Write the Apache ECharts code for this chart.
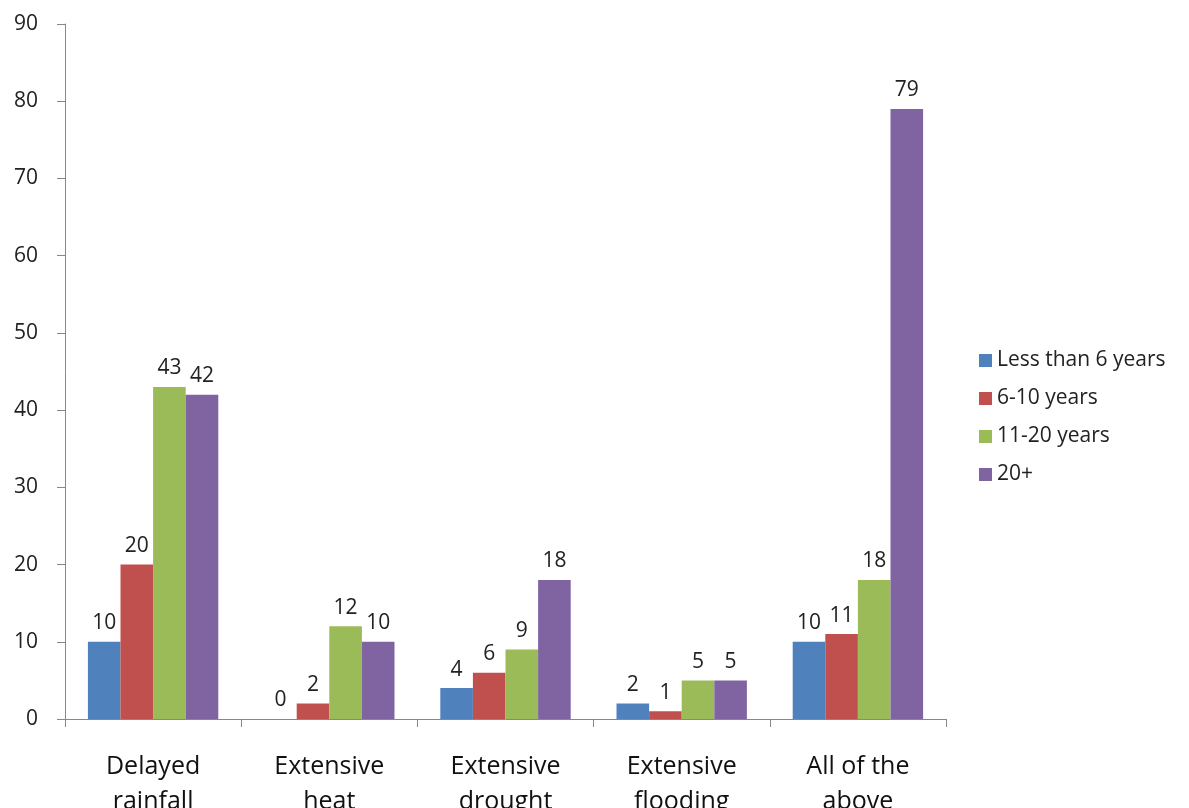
<!DOCTYPE html>
<html><head><meta charset="utf-8">
<script src="https://cdn.jsdelivr.net/npm/echarts@6/dist/echarts.min.js"></script>
<style>html,body{margin:0;padding:0;background:#fff}#c{width:1189px;height:808px}</style>
</head><body><div id="c"></div>
<script>
const categories = ["Delayed\nrainfall", "Extensive\nheat", "Extensive\ndrought", "Extensive\nflooding", "All of the\nabove"];
const seriesNames = ["Less than 6 years", "6-10 years", "11-20 years", "20+"];
const lessThan6 = [10, 0, 4, 2, 10];
const y6to10 = [20, 2, 6, 1, 11];
const y11to20 = [43, 12, 9, 5, 18];
const y20plus = [42, 10, 18, 5, 79];
const colors = ["#4F81BD", "#C0504D", "#9BBB59", "#8064A2"];
const values = [lessThan6, y6to10, y11to20, y20plus];

const font = "'Open Sans', 'Liberation Sans', sans-serif";
const chart = echarts.init(document.getElementById('c'));
chart.setOption({
  animation: false,
  textStyle: {fontFamily: font},
  grid: {left: 65, right: 243, top: 24, bottom: 89, containLabel: false, outerBoundsMode: 'none'},
  legend: {
    orient: 'vertical', left: 974, top: 345,
    itemWidth: 13, itemHeight: 13, itemGap: 17,
    icon: 'rect',
    textStyle: {fontSize: 21, color: '#222', fontFamily: font},
    data: seriesNames
  },
  xAxis: {
    type: 'category', data: categories,
    axisLine: {lineStyle: {color: '#888', width: 1}},
    axisTick: {show: true, length: 8, lineStyle: {color: '#888'}},
    axisLabel: {fontSize: 25, color: '#111', margin: 30, lineHeight: 35, fontFamily: font, hideOverlap: false}
  },
  yAxis: {
    type: 'value', min: 0, max: 90, interval: 10,
    axisLine: {show: true, lineStyle: {color: '#888', width: 1}},
    axisTick: {show: true, length: 8, lineStyle: {color: '#888'}},
    splitLine: {show: false},
    axisLabel: {fontSize: 21, color: '#222', margin: 27, fontFamily: font}
  },
  series: seriesNames.map((n, i) => ({
    name: n, type: 'bar', data: values[i],
    barGap: '0%', barCategoryGap: '26%',
    itemStyle: {color: colors[i]},
    label: {show: true, position: 'top', fontSize: 21, color: '#222', distance: 8, fontFamily: font}
  }))
});
</script></body></html>
